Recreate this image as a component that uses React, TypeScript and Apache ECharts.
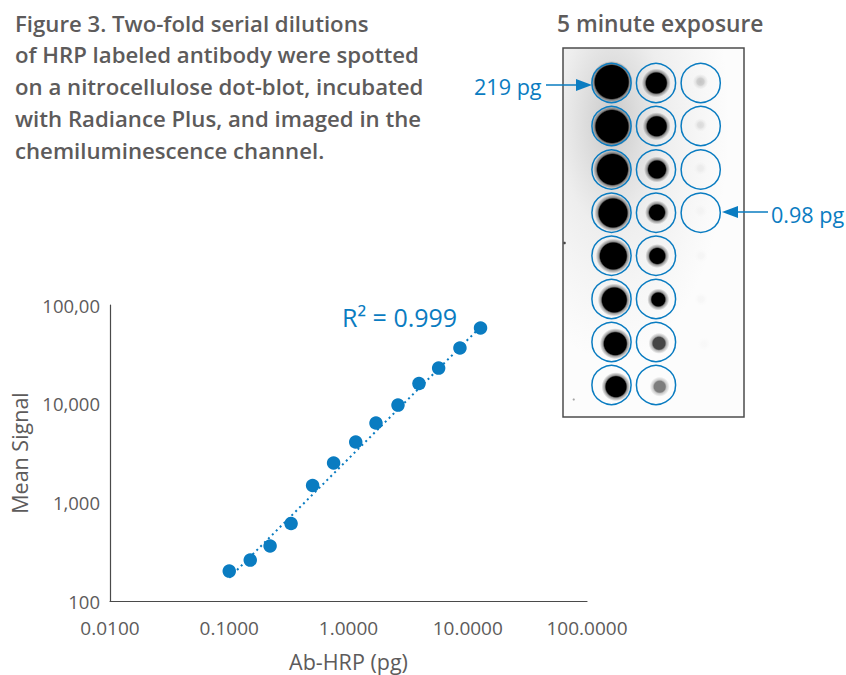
import React, { useEffect, useRef } from "react";
import * as echarts from "echarts";

const captionLines = [
  "Figure 3. Two-fold serial dilutions",
  "of HRP labeled antibody were spotted",
  "on a nitrocellulose dot-blot, incubated",
  "with Radiance Plus, and imaged in the",
  "chemiluminescence channel.",
];
const blotTitle = "5 minute exposure";
const xTickLabels = ["0.0100", "0.1000", "1.0000", "10.0000", "100.0000"];
const yTickLabels = ["100", "1,000", "10,000", "100,00"];
const abHrp = [0.1, 0.15, 0.22, 0.33, 0.5, 0.75, 1.15, 1.7, 2.6, 3.9, 5.7, 8.6, 12.8];
const meanSignal = [201, 260, 361, 610, 1482, 2505, 4087, 6368, 9685, 16000, 22970, 36660, 58480];
const trendX = [0.1, 12.8];
const trendY = [172, 60000];

// dot-blot image: [cx, cy, core radius, grey level of core]
const ringColumns = [611.5, 656, 700.7];
const ringRows = [83, 126, 169.5, 212.7, 255.7, 299, 342, 385];
const ringCounts = [8, 8, 4];
const blotDots: number[][] = [
  [611.7, 82, 16.5, 0], [612, 126.5, 16, 0], [612.5, 169.5, 15, 0], [613, 213, 14, 0],
  [613.3, 256, 13, 0], [614.3, 300, 12, 0], [615.3, 343.7, 11, 0], [616, 386.7, 10, 0],
  [656.3, 83, 10, 0], [656.7, 126.3, 9.5, 0], [657, 169.5, 8.5, 0], [657, 212.5, 7.5, 0],
  [657.3, 256, 7.5, 0], [658.3, 299.5, 6.5, 0], [659, 343.3, 6, 70], [659.7, 386.7, 5.5, 125],
  [700.5, 81.7, 3.5, 195], [700.5, 125, 3, 218], [700.5, 168.3, 3, 235], [700.5, 211, 3, 243],
  [701, 255.7, 3, 245], [701, 299.3, 3, 246], [704, 344, 3, 248],
];
const blotSpecks: number[][] = [
  [564.5, 243, 1.3, 70], [573.7, 399.5, 1.1, 165],
];

const BLUE = "#0a7cc1";
const GREY = "#5d5b5b";
const FONT = "'Open Sans', 'Noto Sans', sans-serif";

function dotGraphic([cx, cy, r, g]: number[]) {
  const R = g > 190 ? r * 2.2 : r + 4.5;
  const inner = r / R;
  const c = (a: number) => `rgba(${g},${g},${g},${a})`;
  return {
    type: "circle",
    shape: { cx, cy, r: R },
    silent: true,
    style: {
      fill: new echarts.graphic.RadialGradient(0.5, 0.5, 0.5, [
        { offset: 0, color: c(1) },
        { offset: inner, color: c(g > 190 ? 0.8 : 1) },
        { offset: inner + (1 - inner) * 0.3, color: c(0.4) },
        { offset: 1, color: c(0) },
      ]),
    },
  };
}

function arrow(x1: number, x2: number, y: number) {
  const dir = x2 > x1 ? 1 : -1;
  return [
    { type: "line", shape: { x1, y1: y, x2: x2 - dir * 8, y2: y }, style: { stroke: BLUE, lineWidth: 1.6 } },
    {
      type: "polygon",
      shape: { points: [[x2, y], [x2 - dir * 16, y - 6], [x2 - dir * 16, y + 6]] },
      style: { fill: BLUE },
    },
  ];
}

export default function App() {
  const ref = useRef<HTMLDivElement>(null);
  useEffect(() => {
    const chart = echarts.init(ref.current!, undefined, { renderer: "svg" });
    const rings: any[] = [];
    ringColumns.forEach((cx, c) => {
      ringRows.slice(0, ringCounts[c]).forEach((cy) => {
        rings.push({
          type: "circle",
          shape: { cx, cy, r: 19.6 },
          style: { fill: "none", stroke: BLUE, lineWidth: 1.5 },
        });
      });
    });
    chart.setOption({
      animation: false,
      backgroundColor: "#ffffff",
      grid: { left: 110, top: 305, width: 477, height: 296, containLabel: false, outerBoundsMode: "none" },
      xAxis: {
        type: "log",
        logBase: 10,
        min: 0.01,
        max: 100,
        name: "Ab-HRP (pg)",
        nameLocation: "middle",
        nameGap: 49,
        nameTextStyle: { fontFamily: FONT, fontSize: 21.5, color: GREY },
        axisLine: { show: true, lineStyle: { color: "#4a4a4a", width: 1.2 } },
        axisTick: { show: false },
        minorTick: { show: false },
        splitLine: { show: false },
        axisLabel: {
          fontFamily: FONT,
          fontSize: 19,
          color: GREY,
          margin: 17,
          formatter: (_v: number, i: number) => xTickLabels[i] ?? "",
        },
      },
      yAxis: {
        type: "log",
        logBase: 10,
        min: 100,
        max: 100000,
        name: "Mean Signal",
        nameLocation: "middle",
        nameGap: 80,
        nameRotate: 90,
        nameTextStyle: { fontFamily: FONT, fontSize: 21.5, color: GREY },
        axisLine: { show: true, lineStyle: { color: "#4a4a4a", width: 1.2 } },
        axisTick: { show: false },
        minorTick: { show: false },
        splitLine: { show: false },
        axisLabel: {
          fontFamily: FONT,
          fontSize: 18.5,
          color: GREY,
          margin: 10,
          formatter: (_v: number, i: number) => yTickLabels[i] ?? "",
        },
      },
      series: [
        {
          type: "line",
          data: trendX.map((x, i) => [x, trendY[i]]),
          showSymbol: false,
          symbol: "none",
          lineStyle: { color: BLUE, width: 2, type: [2, 3.5] },
          z: 2,
        },
        {
          type: "scatter",
          data: abHrp.map((x, i) => [x, meanSignal[i]]),
          symbol: "circle",
          symbolSize: 13.5,
          itemStyle: { color: BLUE, opacity: 1 },
          z: 3,
        },
      ],
      graphic: [
        ...captionLines.map((t, i) => ({
          type: "text",
          x: 15,
          y: 23 + i * 31.8,
          style: { text: t, fontFamily: FONT, fontSize: 22.2, fontWeight: 600, fill: GREY, verticalAlign: "middle" },
        })),
        {
          type: "text",
          x: 557,
          y: 23,
          style: { text: blotTitle, fontFamily: FONT, fontSize: 22.8, fontWeight: 600, fill: GREY, verticalAlign: "middle" },
        },
        {
          type: "rect",
          shape: { x: 563, y: 48, width: 181, height: 369 },
          style: { fill: "#fcfcfc" },
        },
        {
          type: "rect",
          shape: { x: 563, y: 48, width: 181, height: 369 },
          style: {
            fill: new echarts.graphic.RadialGradient(0.27, 0.2, 0.65, [
              { offset: 0, color: "rgba(80,80,80,0.3)" },
              { offset: 0.45, color: "rgba(110,110,110,0.1)" },
              { offset: 1, color: "rgba(140,140,140,0)" },
            ]),
          },
        },
        ...blotDots.map(dotGraphic),
        ...blotSpecks.map(([cx, cy, r, g]) => ({
          type: "circle",
          shape: { cx, cy, r },
          style: { fill: `rgb(${g},${g},${g})` },
        })),
        {
          type: "rect",
          shape: { x: 563, y: 48, width: 181, height: 369 },
          style: { fill: "none", stroke: "#4c4c4c", lineWidth: 1.5 },
        },
        ...rings,
        ...arrow(546, 592, 85),
        ...arrow(768, 722, 212),
        {
          type: "text", x: 474, y: 86,
          style: { text: "219 pg", fontFamily: FONT, fontSize: 21.6, fill: BLUE, verticalAlign: "middle" },
        },
        {
          type: "text", x: 771, y: 214,
          style: { text: "0.98 pg", fontFamily: FONT, fontSize: 21.6, fill: BLUE, verticalAlign: "middle" },
        },
        {
          type: "text", x: 342, y: 317,
          style: { text: "R² = 0.999", fontFamily: FONT, fontSize: 25, fill: BLUE, verticalAlign: "middle" },
        },
      ],
    });
    return () => chart.dispose();
  }, []);
  return <div ref={ref} style={{ position: "absolute", left: 0, top: 0, width: 846, height: 675 }} />;
}
